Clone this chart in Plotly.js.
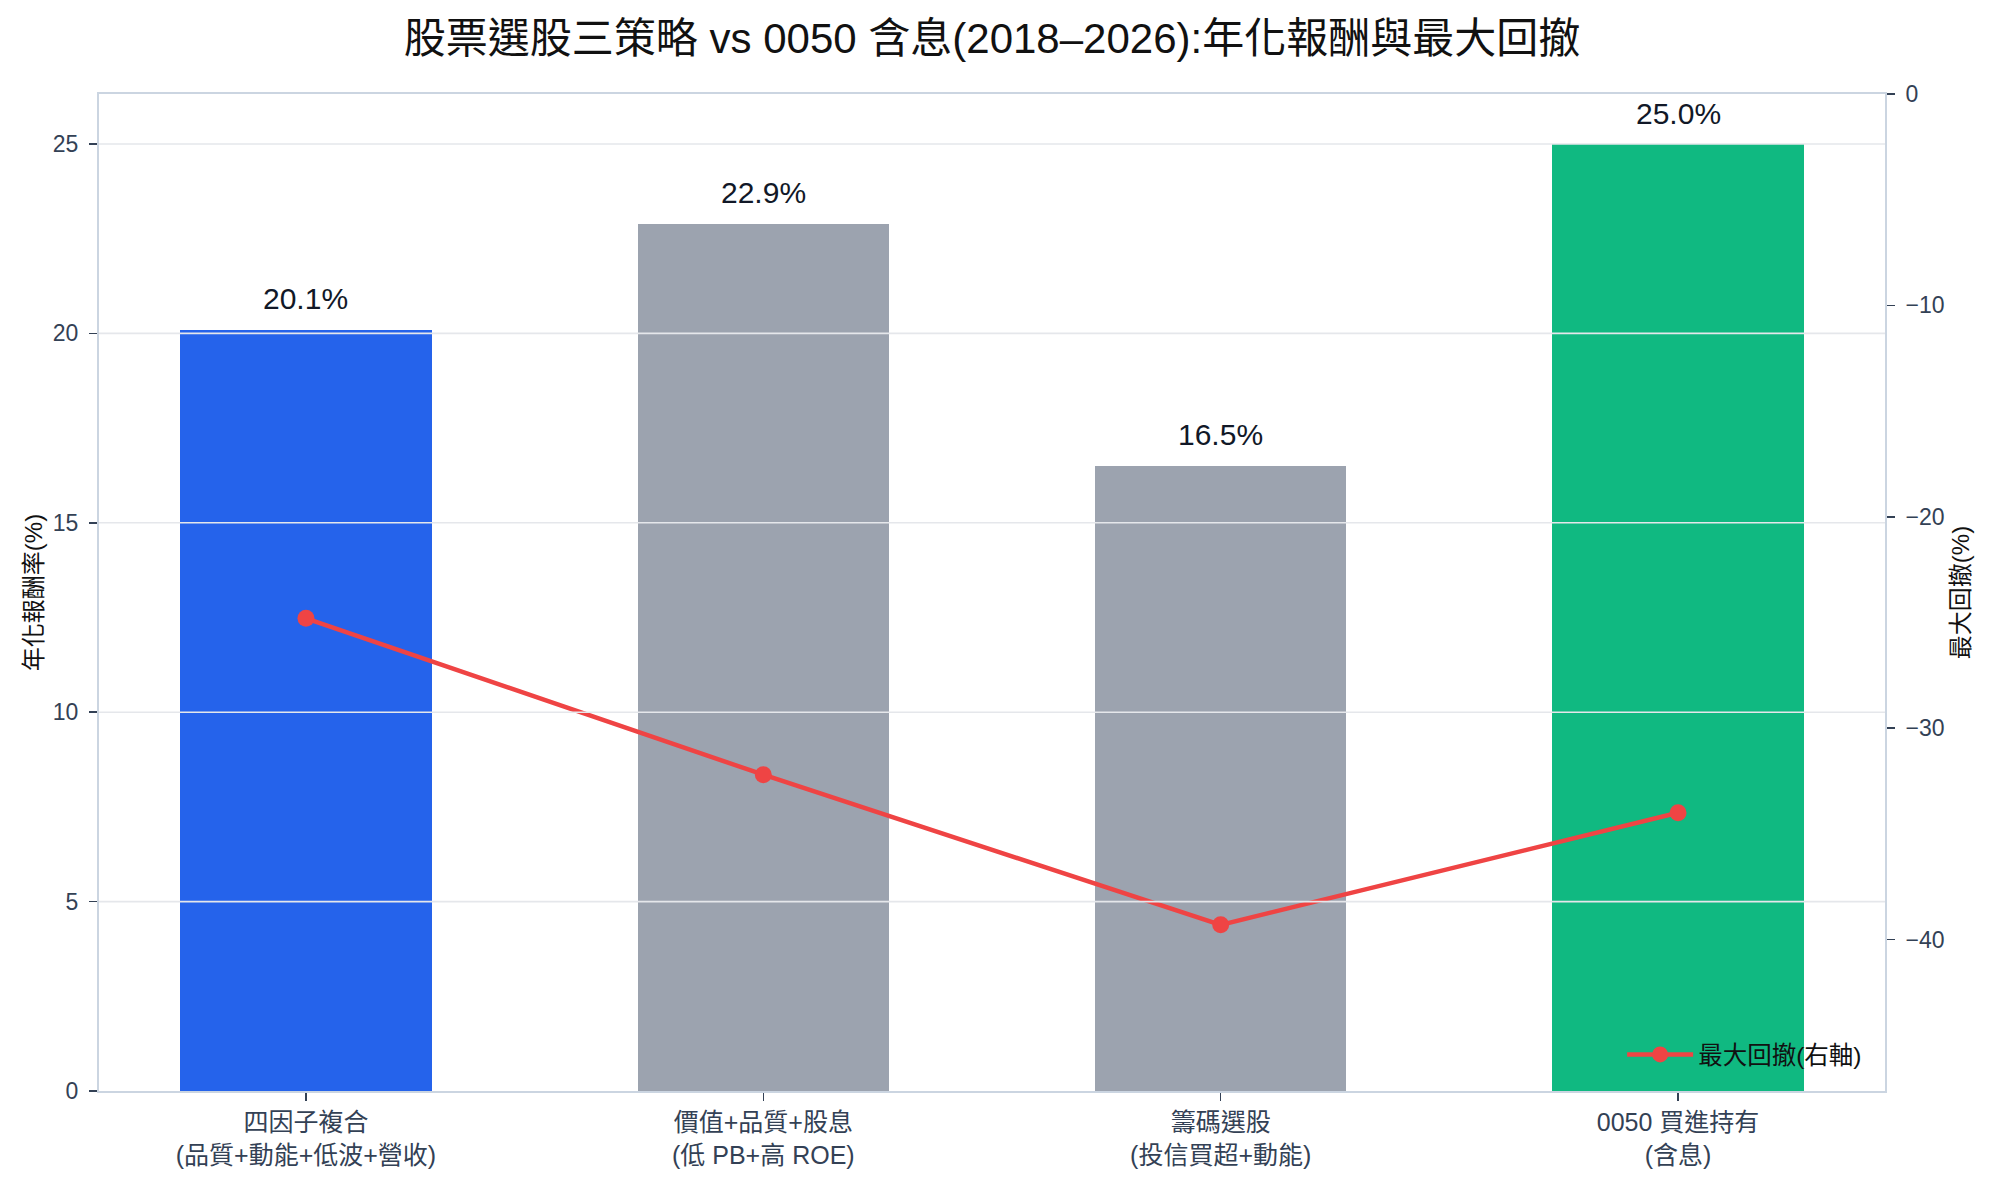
<!DOCTYPE html>
<html>
<head>
<meta charset="utf-8">
<script src="https://cdn.plot.ly/plotly-3.0.1.min.js"></script>
<style>
  html, body { margin: 0; padding: 0; background: #fff; }
  #chart { width: 1992px; height: 1182px; }
</style>
</head>
<body>
<div id="chart"></div>
<script>
  // strategy names (x tick labels, two lines each)
  var strategies = [
    '四因子複合<br>(品質+動能+低波+營收)',
    '價值+品質+股息<br>(低 PB+高 ROE)',
    '籌碼選股<br>(投信買超+動能)',
    '0050 買進持有<br>(含息)'
  ];
  // annualised return, %
  var annualReturn = [20.1, 22.9, 16.5, 25.0];
  // max drawdown, % (right axis)
  var maxDrawdown = [-24.8, -32.2, -39.3, -34.0];
  var barColors = ['#2563eb', '#9ca3af', '#9ca3af', '#10b981'];
  var leftTicks = [0, 5, 10, 15, 20, 25];
  var rightTicks = [0, -10, -20, -30, -40];

  var FONT = '"Liberation Sans", Arial, "Noto Sans CJK TC", sans-serif';
  var TICKC = '#334155';
  var LINEC = '#cbd5e1';

  var bars = {
    x: strategies,
    y: annualReturn,
    type: 'bar',
    width: 0.55,
    marker: { color: barColors, line: { width: 0 } },
    showlegend: false,
    hoverinfo: 'y'
  };

  var drawdown = {
    x: strategies,
    y: maxDrawdown,
    yaxis: 'y2',
    type: 'scatter',
    mode: 'lines+markers',
    name: '最大回撤(右軸)',
    line: { color: '#ef4444', width: 4.5 },
    marker: { color: '#ef4444', size: 17 }
  };

  var labels = annualReturn.map(function (v, i) {
    return {
      x: strategies[i], y: v, xref: 'x', yref: 'y',
      text: v.toFixed(1) + '%',
      showarrow: false, yanchor: 'middle', yshift: 31,
      font: { family: FONT, size: 30, color: '#111827' }
    };
  });

  // grid drawn above the bars, as in the reference
  var grid = leftTicks.filter(function (t) { return t > 0; }).map(function (t) {
    return {
      type: 'line', xref: 'paper', x0: 0, x1: 1, yref: 'y', y0: t, y1: t,
      layer: 'above', line: { color: '#e5e7eb', width: 1.6 }
    };
  });

  var layout = {
    width: 1992,
    height: 1182,
    margin: { l: 99, r: 107, t: 94, b: 91 },
    paper_bgcolor: '#ffffff',
    plot_bgcolor: '#ffffff',
    font: { family: FONT, color: TICKC, size: 24 },
    title: {
      text: '股票選股三策略 vs 0050 含息(2018–2026):年化報酬與最大回撤',
      font: { family: FONT, size: 42, color: '#111111' },
      x: 0.5, xref: 'paper', xanchor: 'center',
      y: 1 - 38 / 1182, yref: 'container', yanchor: 'middle'
    },
    xaxis: {
      type: 'category',
      range: [-0.4525, 3.4525],
      showgrid: false,
      showline: true, linecolor: LINEC, linewidth: 2, mirror: true,
      ticks: 'outside', ticklen: 8, tickwidth: 1.5, tickcolor: TICKC,
      ticklabelstandoff: 0,
      tickfont: { family: FONT, size: 25, color: TICKC },
      zeroline: false
    },
    yaxis: {
      range: [0, 26.32],
      tickvals: leftTicks,
      showgrid: false,
      zeroline: false,
      showline: true, linecolor: LINEC, linewidth: 2, mirror: true,
      ticks: 'outside', ticklen: 8, tickwidth: 1.5, tickcolor: TICKC,
      ticklabelstandoff: 6,
      tickfont: { family: FONT, size: 23, color: TICKC },
      title: { text: '年化報酬率(%)', standoff: 3, font: { family: FONT, size: 24, color: '#111111' } }
    },
    yaxis2: {
      overlaying: 'y',
      side: 'right',
      range: [-47.16, 0],
      tickvals: rightTicks,
      showgrid: false,
      zeroline: false,
      showline: true, linecolor: LINEC, linewidth: 2,
      ticks: 'outside', ticklen: 8, tickwidth: 1.5, tickcolor: TICKC,
      ticklabelstandoff: 6,
      tickfont: { family: FONT, size: 23, color: TICKC },
      title: { text: '最大回撤(%)', standoff: 9, font: { family: FONT, size: 24, color: '#111111' } }
    },
    legend: {
      x: 0.99, xanchor: 'right', xref: 'paper',
      y: 0.014, yanchor: 'bottom', yref: 'paper',
      bgcolor: 'rgba(0,0,0,0)',
      itemwidth: 66,
      font: { family: FONT, size: 24.5, color: '#111111' }
    },
    showlegend: true,
    annotations: labels,
    shapes: grid,
    bargap: 0
  };

  Plotly.newPlot('chart', [bars, drawdown], layout, { displayModeBar: false, staticPlot: true });
</script>
</body>
</html>
